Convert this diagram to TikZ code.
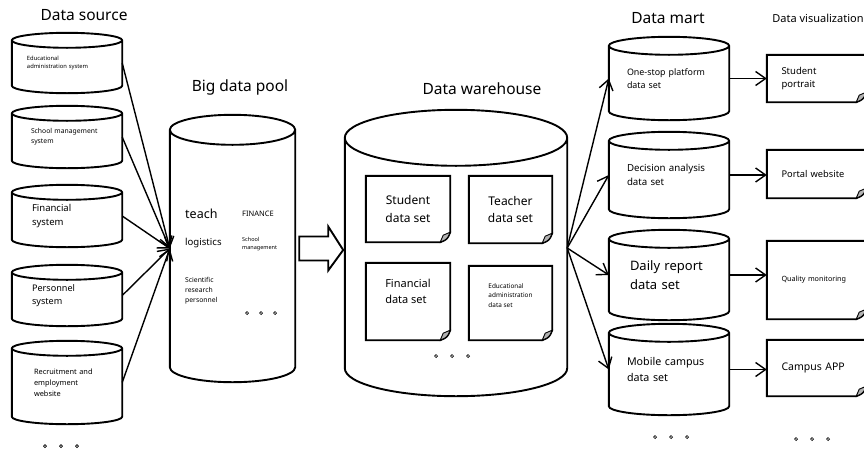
\documentclass[tikz,border=0pt]{standalone}
\usepackage{fontspec}
\setmainfont{Noto Sans}
\usetikzlibrary{arrows.meta,calc}

\newcommand\fsz[1]{\fontsize{#1}{\dimexpr#1pt*145/100\relax}\selectfont}
% cylinder outline round a named node
\newcommand\dbcyl[2]{%
  \draw[line width=1.9pt] let \p1=(#1.north west), \p2=(#1.south east), \n1={(\x2-\x1)/2} in
    (\x1,\y1-#2pt) -- (\x1,\y2+#2pt) arc[start angle=180,end angle=360,x radius=\n1*1pt,y radius=#2pt]
    -- (\x2,\y1-#2pt) arc[start angle=0,end angle=180,x radius=\n1*1pt,y radius=#2pt] -- cycle
    (\x1,\y1-#2pt) arc[start angle=180,end angle=360,x radius=\n1*1pt,y radius=#2pt];}
% sheet with a curled corner round a named node
\newcommand\dogear[1]{%
  \draw[line width=1.9pt] let \p1=(#1.north west), \p2=(#1.south east) in
    (\x1,\y1) -- (\x2,\y1) -- (\x2,\y2+10pt) .. controls (\x2-3pt,\y2+3pt) .. (\x2-10pt,\y2) -- (\x1,\y2) -- cycle;
  \filldraw[fill=gray!60, line width=0.9pt] let \p2=(#1.south east) in
    (\x2,\y2+10pt) -- (\x2-7pt,\y2+7pt) -- (\x2-10pt,\y2) .. controls (\x2-3pt,\y2+3pt) .. cycle;}

\tikzset{
  db/.style={inner sep=0pt, align=left},
  sheet/.style={inner sep=0pt},
  title/.style={inner sep=0pt, font=\fsz{15.5}},
  lbl/.style={inner sep=0pt, anchor=west, align=left},
  link/.style={line width=1.4pt, -{Straight Barb[length=10pt,width=14pt]}}
}

\begin{document}
\begin{tikzpicture}[x=1pt,y=1pt]
\useasboundingbox (0,0) rectangle (864,-450);
\clip (0,0) rectangle (864,-450);

% titles
\node [title] (tsrc) at (84,-15) {Data source};
\node [title] (tpool) at (240,-87) {Big data pool};
\node [title] (tdw) at (482,-89) {Data warehouse};
\node [title] (tdm) at (668,-18) {Data mart};
\node [title, font=\fsz{11}] (tdv) at (818,-18) {Data visualization};

% data source
\node [db, minimum width=110, minimum height=60, text width=80, font=\fsz{5.8}] (src1) at (67,-63) {Educational\\administration system};
\node [db, minimum width=110, minimum height=62, text width=72, font=\fsz{6.8}] (src2) at (67,-137) {School management\\ system};
\node [db, minimum width=110, minimum height=62, text width=70, font=\fsz{9.5}] (src3) at (67,-216) {Financial\\system};
\node [db, minimum width=110, minimum height=61, text width=70, font=\fsz{9.1}] (src4) at (67,-295.5) {Personnel\\system};
\node [db, minimum width=110, minimum height=83, text width=66, font=\fsz{7.4}] (src5) at (67,-382.5) {Recruitment and\\employment\\website};
\foreach \k in {src1,src2,src3,src4,src5} \dbcyl{\k}{7.5};
\foreach \x in {45,61,77} \draw[line width=0.7pt] (\x,-446) circle (1.5pt);

% big data pool
\node [db, minimum width=125, minimum height=267] (pool) at (232.5,-248.5) {};
\dbcyl{pool}{15}
\node [lbl, font=\fsz{12.5}] (pteach) at (185,-214) {teach};
\node [lbl, font=\fsz{9.6}] (plog) at (185,-243) {logistics};
\node [lbl, font=\fsz{7.5}] (pfin) at (242,-214) {FINANCE};
\node [lbl, font=\fsz{5.5}] (psch) at (242,-244) {School\\management};
\node [lbl, font=\fsz{6.8}] (psci) at (185,-291) {Scientific\\research\\personnel};
\foreach \x in {247,261,275} \draw[line width=0.7pt] (\x,-313) circle (1.5pt);

\foreach \k in {src1,src2,src3,src4,src5} \draw [link] (\k.east) -- (pool.west);

% block arrow
\draw [line width=1.9pt] ([xshift=4pt,yshift=12pt]pool.east) -- ([xshift=33pt,yshift=12pt]pool.east)
  -- ([xshift=33pt,yshift=22pt]pool.east) -- ([xshift=48pt,yshift=-1.5pt]pool.east)
  -- ([xshift=33pt,yshift=-22pt]pool.east) -- ([xshift=33pt,yshift=-12pt]pool.east)
  -- ([xshift=4pt,yshift=-12pt]pool.east) -- cycle;

% data warehouse
\node [db, minimum width=222, minimum height=286] (dw) at (456,-253) {};
\dbcyl{dw}{28}
\node [sheet, minimum width=84, minimum height=66, align=center, font=\fsz{12}] (ds1) at (408,-209) {Student\\data set};
\node [sheet, minimum width=83, minimum height=67, align=center, font=\fsz{12}] (ds2) at (510.5,-209.5) {Teacher\\data set};
\node [sheet, minimum width=84, minimum height=77, align=left, font=\fsz{11}] (ds3) at (408,-301.5) {Financial\\data set\\[4pt]};
\node [sheet, minimum width=83, minimum height=74, align=left, font=\fsz{6.4}] (ds4) at (510.5,-303) {Educational\\administration\\ data set\\[6pt]};
\foreach \k in {ds1,ds2,ds3,ds4} \dogear{\k};
\foreach \x in {436,452,468} \draw[line width=0.7pt] (\x,-356) circle (1.5pt);

% data mart
\node [db, minimum width=120, minimum height=83, text width=84, font=\fsz{8.9}] (dm1) at (669,-78.5) {One-stop platform\\ data set};
\node [db, minimum width=120, minimum height=86, text width=84, font=\fsz{9.7}] (dm2) at (669,-175) {Decision analysis\\ data set};
\node [db, minimum width=120, minimum height=90, text width=78, font=\fsz{13}] (dm3) at (669,-275) {Daily report\\data set};
\node [db, minimum width=120, minimum height=91, text width=84, font=\fsz{10.7}] (dm4) at (669,-369.5) {Mobile campus\\data set};
\foreach \k in {dm1,dm2,dm3,dm4} \dbcyl{\k}{9};
\foreach \x in {655,671,687} \draw[line width=0.7pt] (\x,-437) circle (1.5pt);

\coordinate (fan) at ([yshift=5pt]dw.east);
\foreach \k in {dm1,dm2,dm3,dm4} \draw [link] (fan) -- (\k.west);

% data visualization
\node [sheet, minimum width=99, minimum height=47, text width=70, align=left, font=\fsz{9.5}] (dv1) at (816.5,-78.5) {Student\\portrait};
\node [sheet, minimum width=99, minimum height=48, text width=70, align=left, font=\fsz{9.3}] (dv2) at (816.5,-174) {Portal website};
\node [sheet, minimum width=99, minimum height=78, text width=70, align=left, font=\fsz{7.2}] (dv3) at (816.5,-280) {\mbox{Quality monitoring}\\[10pt]};
\node [sheet, minimum width=99, minimum height=56, text width=70, align=left, font=\fsz{10.5}] (dv4) at (816.5,-368) {Campus APP\\[4pt]};
\foreach \k in {dv1,dv2,dv3,dv4} \dogear{\k};
\foreach \x in {796,812,828} \draw[line width=0.7pt] (\x,-439) circle (1.5pt);

\foreach \i in {1,2,3,4} \draw [link] (dm\i.east) -- (dm\i.east -| dv\i.west);
\end{tikzpicture}
\end{document}
